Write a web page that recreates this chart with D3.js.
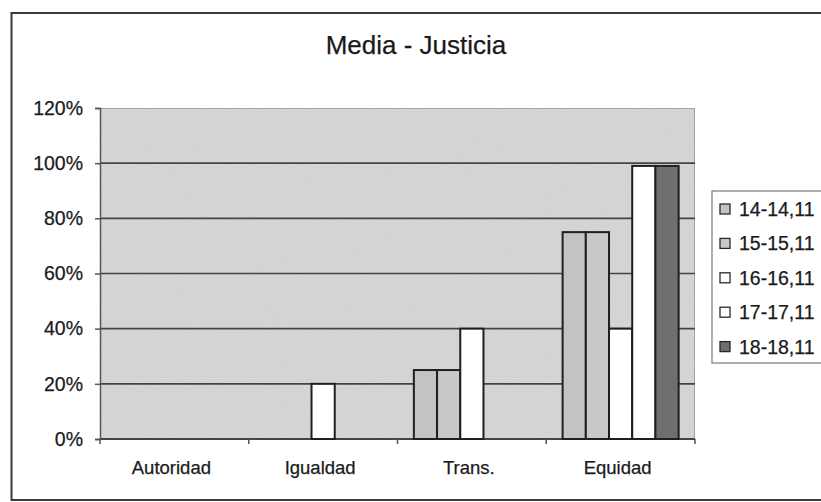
<!DOCTYPE html>
<html>
<head>
<meta charset="utf-8">
<script src="https://cdn.jsdelivr.net/npm/d3@7/dist/d3.min.js"></script>
<style>
  html, body { margin: 0; padding: 0; background: #ffffff; }
  svg { display: block; }
  text { font-family: "Liberation Sans", Arial, sans-serif; fill: #1a1a1a; stroke: #1a1a1a; stroke-width: 0.25px; }
</style>
</head>
<body>
<svg id="chart" width="821" height="502"></svg>
<script>
// Categories and series
const categories = ["Autoridad", "Igualdad", "Trans.", "Equidad"];
const seriesNames = ["14-14,11", "15-15,11", "16-16,11", "17-17,11", "18-18,11"];
const seriesColors = ["#c3c3c3", "#c9c9c9", "#ffffff", "#ffffff", "#6f6f6f"];

// Values per series, one entry per category (fractions of 1)
const s14 = [0, 0, 0.25, 0.75];
const s15 = [0, 0, 0.25, 0.75];
const s16 = [0, 0.20, 0.40, 0.40];
const s17 = [0, 0, 0, 0.99];
const s18 = [0, 0, 0, 0.99];
const seriesValues = [s14, s15, s16, s17, s18];

const yTicks = [0, 0.2, 0.4, 0.6, 0.8, 1.0, 1.2];
const titleText = "Media - Justicia";

const svg = d3.select("#chart");

// Plot area bounds
const plot = { left: 100, right: 695, top: 108, bottom: 439 };

// Grain for the plot background
const defs = svg.append("defs");
const f = defs.append("filter").attr("id", "grain").attr("x", 0).attr("y", 0).attr("width", 1).attr("height", 1);
f.append("feTurbulence").attr("type", "fractalNoise").attr("baseFrequency", 0.9).attr("numOctaves", 2).attr("seed", 3).attr("result", "noise");
f.append("feColorMatrix").attr("in", "noise").attr("type", "matrix")
  .attr("values", "0 0 0 0 0.5  0 0 0 0 0.5  0 0 0 0 0.5  0 0 0 0.35 0").attr("result", "speck");
f.append("feComposite").attr("in", "speck").attr("in2", "SourceGraphic").attr("operator", "in").attr("result", "sp");
f.append("feMerge").selectAll("feMergeNode").data(["SourceGraphic", "sp"]).join("feMergeNode").attr("in", d => d);

// Outer chart frame
svg.append("rect")
  .attr("x", 11.5).attr("y", 13).attr("width", 830).attr("height", 487)
  .attr("fill", "none").attr("stroke", "#3a3a3a").attr("stroke-width", 2);

// Title
svg.append("text")
  .attr("x", 416).attr("y", 54)
  .attr("text-anchor", "middle")
  .attr("font-size", 26)
  .text(titleText);

// Scales
const x0 = d3.scaleBand().domain(categories).range([plot.left, plot.right]).padding(0);
const gap = x0.bandwidth() * 0.11;
const x1 = d3.scaleBand().domain(seriesNames).range([gap, x0.bandwidth() - gap]).padding(0);
const y = d3.scaleLinear().domain([0, 1.2]).range([plot.bottom, plot.top]);

// Plot background
svg.append("rect")
  .attr("x", plot.left).attr("y", plot.top)
  .attr("width", plot.right - plot.left).attr("height", plot.bottom - plot.top)
  .attr("fill", "#d9d9d9").attr("stroke", "#8c8c8c").attr("stroke-width", 1.5)
  .attr("filter", "url(#grain)");

// Gridlines
svg.append("g")
  .selectAll("line")
  .data(yTicks.filter(t => t > 0 && t < 1.2))
  .join("line")
  .attr("x1", plot.left).attr("x2", plot.right)
  .attr("y1", d => y(d)).attr("y2", d => y(d))
  .attr("stroke", "#444").attr("stroke-width", 1.6);

// Y axis
const yAxis = d3.axisLeft(y).tickValues(yTicks).tickFormat(d3.format(".0%")).tickSize(5).tickPadding(12);
const gy = svg.append("g").attr("transform", `translate(${plot.left},0)`).call(yAxis);
gy.select(".domain").attr("stroke", "#555").attr("stroke-width", 1.5);
gy.selectAll(".tick line").attr("stroke", "#555").attr("stroke-width", 1.5);
gy.selectAll(".tick text").attr("font-size", 19.5).attr("fill", "#1a1a1a")
  .attr("font-family", "'Liberation Sans', Arial, sans-serif");

// X axis: ticks at category boundaries
const gx = svg.append("g").attr("transform", `translate(0,${plot.bottom})`);
gx.append("line").attr("x1", plot.left).attr("x2", plot.right).attr("y1", 0).attr("y2", 0)
  .attr("stroke", "#444").attr("stroke-width", 1.8);
gx.selectAll("line.tk")
  .data(categories.map(c => x0(c)).concat([plot.right]))
  .join("line").attr("class", "tk")
  .attr("x1", d => d).attr("x2", d => d).attr("y1", 0).attr("y2", 5)
  .attr("stroke", "#555").attr("stroke-width", 1.5);
gx.selectAll("text")
  .data(categories)
  .join("text")
  .attr("x", d => x0(d) + x0.bandwidth() / 2 - 3)
  .attr("y", 35)
  .attr("text-anchor", "middle")
  .attr("font-size", 18.5)
  .text(d => d);

// Bars
const barData = [];
categories.forEach((c, ci) => {
  seriesNames.forEach((s, si) => {
    const v = seriesValues[si][ci];
    if (v > 0) barData.push({ c, s, si, v });
  });
});
svg.append("g")
  .selectAll("rect")
  .data(barData)
  .join("rect")
  .attr("x", d => x0(d.c) + x1(d.s))
  .attr("y", d => y(d.v))
  .attr("width", x1.bandwidth())
  .attr("height", d => y(0) - y(d.v))
  .attr("fill", d => seriesColors[d.si])
  .attr("stroke", "#1f1f1f").attr("stroke-width", 2);

// Legend
const legend = svg.append("g");
legend.append("rect")
  .attr("x", 712).attr("y", 191).attr("width", 130).attr("height", 172)
  .attr("fill", "#ffffff").attr("stroke", "#7a7a7a").attr("stroke-width", 1.2);
const li = legend.selectAll("g.item")
  .data(seriesNames)
  .join("g").attr("class", "item")
  .attr("transform", (d, i) => `translate(720,${209 + i * 34.4})`);
li.append("rect")
  .attr("x", 0).attr("y", -5).attr("width", 10).attr("height", 10)
  .attr("fill", (d, i) => seriesColors[i])
  .attr("stroke", "#2a2a2a").attr("stroke-width", 1.3);
li.append("text")
  .attr("x", 19).attr("y", 7)
  .attr("font-size", 19.5)
  .text(d => d);
</script>
</body>
</html>
